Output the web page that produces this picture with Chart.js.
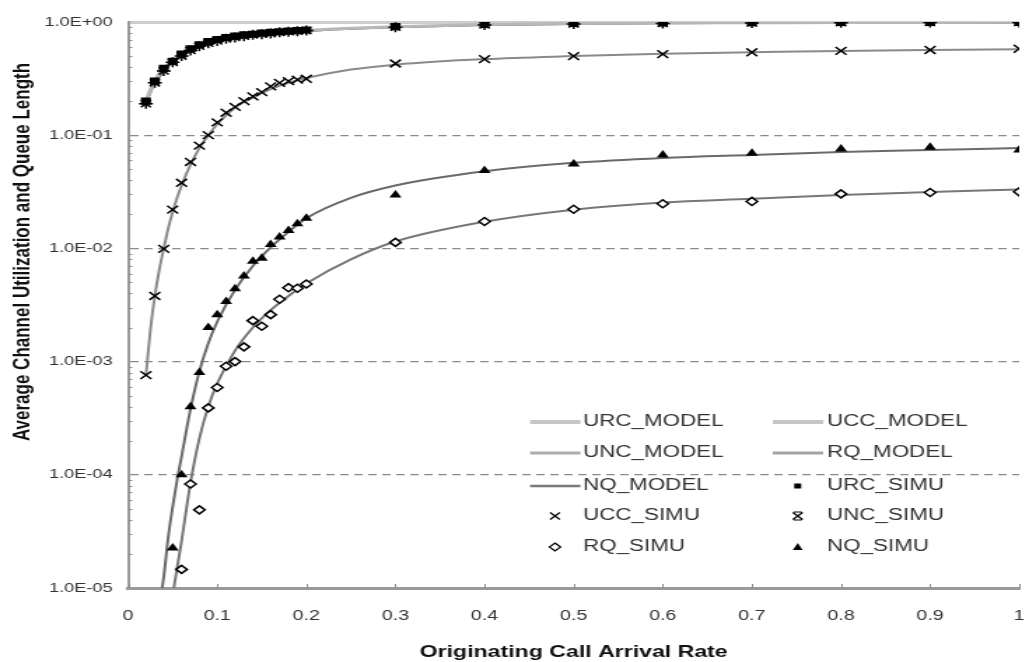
<!DOCTYPE html>
<html>
<head>
<meta charset="utf-8">
<title>Average Channel Utilization and Queue Length</title>
<script src="https://cdn.jsdelivr.net/npm/chart.js"></script>
<style>
  html, body { margin: 0; padding: 0; background: #fff; overflow: hidden; }
  /* the reference picture is stretched sideways, so the canvas is too */
  #wrap { width: 735px; height: 662px; transform: scaleX(1.4); transform-origin: 0 0; }
</style>
</head>
<body>
<div id="wrap"><canvas id="chart" width="735" height="662"></canvas></div>
<script>
// x positions of the simulation points
const xSimu = [0.02, 0.03, 0.04, 0.05, 0.06, 0.07, 0.08, 0.09, 0.10, 0.11, 0.12, 0.13, 0.14, 0.15, 0.16, 0.17, 0.18, 0.19, 0.20,
  0.3, 0.4, 0.5, 0.6, 0.7, 0.8, 0.9, 1.0];
const urcSimu = [0.20, 0.30, 0.39, 0.45, 0.52, 0.58, 0.63, 0.67, 0.70, 0.73, 0.75, 0.77, 0.78, 0.80, 0.81, 0.82, 0.83, 0.84, 0.85,
  0.91, 0.95, 0.97, 0.98, 0.985, 0.99, 0.99, 0.99];
const uncSimu = [0.19, 0.29, 0.37, 0.44, 0.50, 0.56, 0.61, 0.65, 0.68, 0.71, 0.73, 0.75, 0.77, 0.78, 0.79, 0.81, 0.82, 0.83, 0.84,
  0.90, 0.94, 0.96, 0.97, 0.98, 0.985, 0.99, 0.99];
const uccSimu = [7.6e-4, 3.8e-3, 9.9e-3, 2.2e-2, 3.8e-2, 5.8e-2, 8.1e-2, 0.10, 0.13, 0.158, 0.178, 0.20, 0.22, 0.24, 0.27, 0.29, 0.30, 0.31, 0.315,
  0.43, 0.47, 0.50, 0.52, 0.54, 0.555, 0.566, 0.58];
const rqSimu = [null, null, null, null, 1.46e-5, 8.3e-5, 4.9e-5, 3.9e-4, 5.9e-4, 9.1e-4, 1.0e-3, 1.35e-3, 2.3e-3, 2.05e-3, 2.6e-3, 3.55e-3, 4.5e-3, 4.45e-3, 4.85e-3,
  1.13e-2, 1.73e-2, 2.22e-2, 2.48e-2, 2.6e-2, 3.03e-2, 3.12e-2, 3.16e-2];
const nqSimu = [null, null, null, 2.26e-5, 1.0e-4, 4.0e-4, 8.0e-4, 2.0e-3, 2.6e-3, 3.4e-3, 4.4e-3, 5.7e-3, 7.7e-3, 8.2e-3, 1.08e-2, 1.26e-2, 1.44e-2, 1.65e-2, 1.85e-2,
  2.97e-2, 4.87e-2, 5.58e-2, 6.7e-2, 6.94e-2, 7.57e-2, 7.83e-2, 7.4e-2];

// x positions of the model curves
const xModel = [0.02, 0.025, 0.03, 0.035, 0.04, 0.045, 0.05, 0.055, 0.06, 0.07, 0.08, 0.09, 0.10, 0.12, 0.14, 0.16, 0.18, 0.20,
  0.25, 0.3, 0.4, 0.5, 0.6, 0.7, 0.8, 0.9, 1.0];
const urcModel = [0.20, 0.25, 0.30, 0.35, 0.39, 0.42, 0.45, 0.48, 0.51, 0.57, 0.62, 0.66, 0.69, 0.74, 0.77, 0.80, 0.82, 0.84,
  0.88, 0.91, 0.95, 0.97, 0.98, 0.985, 0.99, 0.99, 0.995];
const uncModel = [0.19, 0.24, 0.29, 0.33, 0.37, 0.41, 0.44, 0.47, 0.50, 0.55, 0.60, 0.64, 0.68, 0.73, 0.76, 0.79, 0.81, 0.83,
  0.87, 0.90, 0.94, 0.96, 0.975, 0.98, 0.985, 0.99, 0.99];
const uccModel = [7.5e-4, 1.9e-3, 3.8e-3, 6.5e-3, 1.0e-2, 1.5e-2, 2.1e-2, 2.8e-2, 3.6e-2, 5.5e-2, 7.7e-2, 0.10, 0.125, 0.175, 0.215, 0.255, 0.29, 0.32,
  0.38, 0.42, 0.47, 0.50, 0.525, 0.54, 0.555, 0.565, 0.575];
const rqModel = [null, null, null, null, null, 4e-6, 8.5e-6, 1.5e-5, 2.6e-5, 8.5e-5, 2.1e-4, 4.0e-4, 6.4e-4, 1.25e-3, 2.0e-3, 2.85e-3, 3.8e-3, 4.9e-3,
  8.0e-3, 1.15e-2, 1.72e-2, 2.2e-2, 2.54e-2, 2.74e-2, 2.97e-2, 3.15e-2, 3.31e-2];
const nqModel = [null, null, null, 7e-6, 1.25e-5, 2.8e-5, 5.2e-5, 9e-5, 1.45e-4, 3.8e-4, 8.2e-4, 1.45e-3, 2.25e-3, 4.3e-3, 7.0e-3, 1.02e-2, 1.4e-2, 1.85e-2,
  2.8e-2, 3.6e-2, 4.8e-2, 5.7e-2, 6.3e-2, 6.7e-2, 7.1e-2, 7.4e-2, 7.7e-2];

// ticks
const xTicks = [0, 0.1, 0.2, 0.3, 0.4, 0.5, 0.6, 0.7, 0.8, 0.9, 1];
const xTickLabels = ['0', '0.1', '0.2', '0.3', '0.4', '0.5', '0.6', '0.7', '0.8', '0.9', '1'];
const yTicks = [1e-5, 1e-4, 1e-3, 1e-2, 1e-1, 1];
const yTickLabels = ['1.0E-05', '1.0E-04', '1.0E-03', '1.0E-02', '1.0E-01', '1.0E+00'];

const legendRows = [
  ['URC_MODEL', 'UCC_MODEL'],
  ['UNC_MODEL', 'RQ_MODEL'],
  ['NQ_MODEL', 'URC_SIMU'],
  ['UCC_SIMU', 'UNC_SIMU'],
  ['RQ_SIMU', 'NQ_SIMU']
];

const FONT = 'Arial, "Liberation Sans", sans-serif';
Chart.defaults.font.family = FONT;
Chart.defaults.color = '#333';

function pts(xs, ys) {
  return xs.map((x, i) => ({x: x, y: ys[i]})).filter(p => p.y !== null);
}

function model(label, ys, color, width, legendColor, legendWidth) {
  return {
    label: label, data: pts(xModel, ys),
    borderColor: color, borderWidth: width, pointRadius: 0,
    cubicInterpolationMode: 'monotone', order: 2,
    legendColor: legendColor, legendWidth: legendWidth
  };
}

function simu(label, ys, style, radius, fill) {
  return {
    label: label, data: pts(xSimu, ys), showLine: false,
    pointStyle: style, pointRadius: radius, pointBorderWidth: 1.5,
    pointBackgroundColor: fill, pointBorderColor: '#000',
    borderColor: '#000', backgroundColor: fill, order: 1
  };
}

const datasets = [
  model('URC_MODEL', urcModel, '#b8b8b8', 3, '#c6c6c6', 4),
  model('UCC_MODEL', uccModel, '#8a8a8a', 2, '#c6c6c6', 4),
  model('UNC_MODEL', uncModel, '#5a5a5a', 2, '#acacac', 3),
  model('RQ_MODEL', rqModel, '#777777', 2, '#a4a4a4', 3),
  model('NQ_MODEL', nqModel, '#6a6a6a', 2, '#7a7a7a', 2.5),
  simu('URC_SIMU', urcSimu, 'rect', 4, '#000'),
  simu('UCC_SIMU', uccSimu, 'crossRot', 5.5, '#000'),
  simu('UNC_SIMU', uncSimu, 'star', 5, '#000'),
  simu('RQ_SIMU', rqSimu, 'rectRot', 4, '#fff'),
  simu('NQ_SIMU', nqSimu, 'triangle', 3.5, '#000')
];

function marker(ctx, style, cx, cy) {
  ctx.beginPath();
  if (style === 'rect') {
    ctx.fillStyle = '#000';
    ctx.fillRect(cx - 2.5, cy - 2.5, 5, 5);
  } else if (style === 'crossRot' || style === 'star') {
    ctx.moveTo(cx - 3.5, cy - 3.5); ctx.lineTo(cx + 3.5, cy + 3.5);
    ctx.moveTo(cx + 3.5, cy - 3.5); ctx.lineTo(cx - 3.5, cy + 3.5);
    if (style === 'star') {
      ctx.moveTo(cx - 3, cy - 4); ctx.lineTo(cx + 3, cy - 4);
      ctx.moveTo(cx - 3, cy + 4); ctx.lineTo(cx + 3, cy + 4);
    }
    ctx.stroke();
  } else if (style === 'rectRot') {
    ctx.moveTo(cx, cy - 4); ctx.lineTo(cx + 4, cy); ctx.lineTo(cx, cy + 4); ctx.lineTo(cx - 4, cy);
    ctx.closePath();
    ctx.stroke();
  } else if (style === 'triangle') {
    ctx.fillStyle = '#000';
    ctx.moveTo(cx, cy - 4); ctx.lineTo(cx + 3.5, cy + 3); ctx.lineTo(cx - 3.5, cy + 3);
    ctx.closePath();
    ctx.fill();
  }
}

const decor = {
  id: 'decor',
  afterDraw(chart) {
    const {ctx, chartArea: a, scales: {x, y}} = chart;
    ctx.save();

    // small ticks inside the axes
    ctx.strokeStyle = '#8c8c8c';
    ctx.lineWidth = 1;
    ctx.beginPath();
    for (let e = -5; e < 0; e++) {
      for (let m = 2; m <= 9; m++) {
        const py = Math.round(y.getPixelForValue(m * Math.pow(10, e))) + 0.5;
        ctx.moveTo(a.left, py);
        ctx.lineTo(a.left + 3, py);
      }
    }
    xTicks.forEach(v => {
      const px = Math.round(x.getPixelForValue(v)) + 0.5;
      ctx.moveTo(px, a.bottom);
      ctx.lineTo(px, a.bottom - 4);
    });
    ctx.stroke();

    // y title, sits above the middle of the plot like in the picture
    ctx.save();
    ctx.translate(16, 252);
    ctx.rotate(-Math.PI / 2);
    ctx.font = 'bold 17px ' + FONT;
    ctx.fillStyle = '#111';
    ctx.textAlign = 'center';
    ctx.textBaseline = 'middle';
    ctx.fillText('Average Channel Utilization and Queue Length', 0, 0);
    ctx.restore();

    // legend in two columns
    const lineX = [378.6, 552];
    const markX = 396.4 - 378.6;
    const textX = [416.4, 590.7];
    const rowY = [422, 453, 486, 516, 547];
    ctx.font = '16px ' + FONT;
    ctx.textBaseline = 'middle';
    ctx.textAlign = 'left';
    legendRows.forEach((row, r) => {
      row.forEach((label, c) => {
        const ds = datasets.find(d => d.label === label);
        const yy = rowY[r];
        if (ds.showLine === false) {
          ctx.strokeStyle = '#000';
          ctx.lineWidth = 1.2;
          marker(ctx, ds.pointStyle, lineX[c] + markX, yy);
        } else {
          ctx.strokeStyle = ds.legendColor;
          ctx.lineWidth = ds.legendWidth;
          ctx.beginPath();
          ctx.moveTo(lineX[c], yy);
          ctx.lineTo(lineX[c] + 36, yy);
          ctx.stroke();
        }
        ctx.fillStyle = '#333';
        ctx.fillText(label, textX[c], yy);
      });
    });
    ctx.restore();
  }
};

new Chart(document.getElementById('chart'), {
  type: 'line',
  data: {datasets: datasets},
  options: {
    responsive: false,
    animation: false,
    events: [],
    layout: {padding: {left: 28, top: 22, right: 0, bottom: 0}},
    plugins: {legend: {display: false}, tooltip: {enabled: false}},
    scales: {
      x: {
        type: 'linear', min: 0, max: 1,
        afterBuildTicks: axis => { axis.ticks = xTicks.map(v => ({value: v})); },
        afterFit: axis => {
          axis.height = 74;
          axis.paddingLeft = 0;
          axis.paddingRight = 4;
        },
        ticks: {
          callback: (v, i) => xTickLabels[i],
          maxRotation: 0, autoSkip: false, padding: 20,
          font: {size: 14}, color: '#333'
        },
        grid: {display: false, drawTicks: false},
        border: {color: '#9a9a9a', width: 3},
        title: {
          display: true, text: 'Originating Call Arrival Rate',
          font: {size: 16.5, weight: 'bold'}, color: '#111',
          padding: {top: 4, bottom: 0}
        }
      },
      y: {
        type: 'logarithmic', min: 1e-5, max: 1,
        afterBuildTicks: axis => { axis.ticks = yTicks.map(v => ({value: v, major: true})); },
        afterFit: axis => { axis.width = 63.5; },
        ticks: {
          callback: (v, i) => yTickLabels[i],
          autoSkip: false, padding: 11,
          font: {size: 13}, color: '#333'
        },
        grid: {
          drawTicks: false,
          color: c => c.tick && c.tick.value === 1 ? '#cdcdcd' : (c.tick && c.tick.value === 1e-5 ? 'rgba(0,0,0,0)' : '#8a8a8a'),
          lineWidth: c => c.tick && c.tick.value === 1 ? 3 : 1.3
        },
        border: {
          color: '#9a9a9a', width: 2,
          dash: c => c.tick && c.tick.value !== 1 ? [6, 4] : []
        }
      }
    }
  },
  plugins: [decor]
});
</script>
</body>
</html>
